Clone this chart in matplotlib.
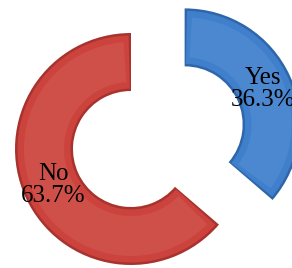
import numpy as np
import matplotlib.pyplot as plt
from matplotlib.patches import Wedge

labels = ["Yes", "No"]
shares = [36.3, 63.7]
colors = ["#3F7FCC", "#CB433C"]
edge_colors = ["#2F66AA", "#A8322D"]

fig = plt.figure(figsize=(2.92, 2.68), dpi=100)
ax = fig.add_axes([0, 0, 1, 1])

R = 116
wedges, _ = ax.pie(shares, radius=R, center=(131, 119), startangle=90,
                   counterclock=False, explode=[59, 0], colors=edge_colors,
                   wedgeprops=dict(width=R * 0.5, edgecolor="none"),
                   frame=True)
ax.set_xlim(0, 292)
ax.set_ylim(0, 268)
ax.axis("off")

# fake bevel: darker rim, a faint lighter band in the middle of the ring
for w, c, lab, val in zip(wedges, colors, labels, shares):
    cx, cy = w.center
    t1, t2 = w.theta1, w.theta2
    ax.add_patch(Wedge((cx, cy), R - 2.5, t1 + 1.2, t2 - 1.2,
                       width=R * 0.5 - 5, facecolor=c, edgecolor="none"))
    ax.add_patch(Wedge((cx, cy), R - 9, t1 + 4, t2 - 4,
                       width=R * 0.5 - 18, facecolor="white", alpha=0.07,
                       edgecolor="none"))
    mid = np.deg2rad((t1 + t2) / 2)
    r = R * 0.74
    ax.text(cx + r * np.cos(mid), cy + r * np.sin(mid), f"{lab}\n{val}%",
            ha="center", va="center", fontsize=18, family="Liberation Serif",
            linespacing=1.0, color="black")

fig.savefig("out.png", dpi=100)
